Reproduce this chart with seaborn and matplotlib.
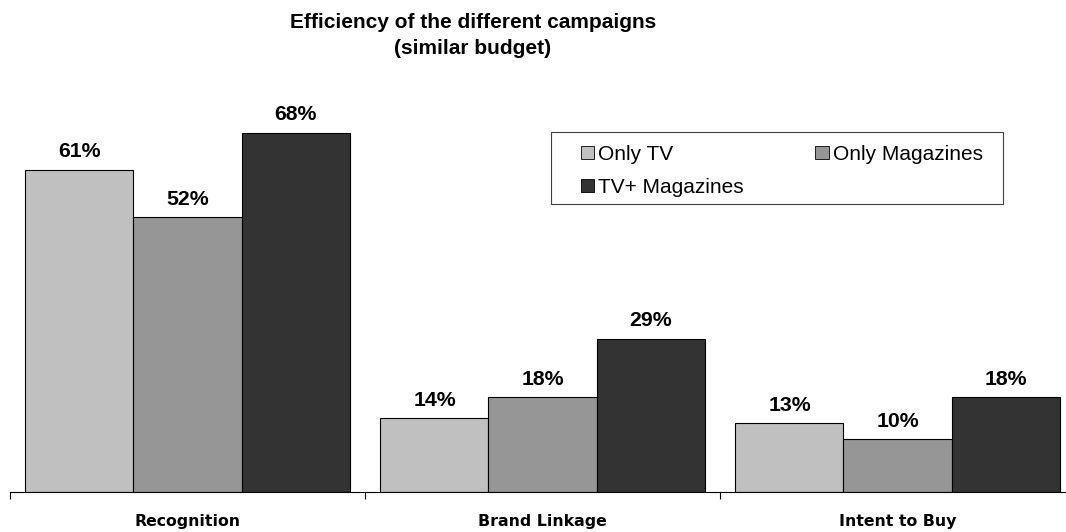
import matplotlib
matplotlib.use("Agg")
import matplotlib.pyplot as plt
from matplotlib.patches import Rectangle
import seaborn as sns
import pandas as pd

categories = ["Recognition", "Brand Linkage", "Intent to Buy"]
series_names = ["Only TV", "Only Magazines", "TV+ Magazines"]
only_tv = [61, 14, 13]
only_mag = [52, 18, 10]
tv_mag = [68, 29, 18]
colors = ["#C0C0C0", "#969696", "#333333"]

rows = []
for name, vals in zip(series_names, [only_tv, only_mag, tv_mag]):
    for c, v in zip(categories, vals):
        rows.append({"Category": c, "Series": name, "Value": v})
df = pd.DataFrame(rows)

sns.set_theme(style="white")
plt.rcParams['font.family'] = ['Liberation Sans', 'DejaVu Sans']
plt.rcParams['text.color'] = 'black'
plt.rcParams['xtick.color'] = 'black'

W, H = 1066, 532
AX_L, AX_B, AX_W, AX_H = 10, 40, 1065, 412
fig = plt.figure(figsize=(W/100, H/100), dpi=100)
ax = fig.add_axes([AX_L/W, AX_B/H, AX_W/W, AX_H/H])

def axx(px):
    return (px - AX_L) / AX_W

def axy(py):
    return (H - AX_B - py) / AX_H

sns.barplot(data=df, x="Category", y="Value", hue="Series", palette=colors,
            width=0.913, gap=0, edgecolor="black", linewidth=0.8, ax=ax,
            saturation=1, legend=True)

ax.set_ylim(0, 78)
ax.set_xlim(-0.5, 2.5)
for s in ["top", "right", "left"]:
    ax.spines[s].set_visible(False)
ax.spines["bottom"].set_color("black")
ax.spines["bottom"].set_linewidth(0.8)
ax.set_yticks([])
ax.set_xlabel("")
ax.set_ylabel("")

ax.set_xticks([-0.5, 0.5, 1.5, 2.5])
ax.set_xticklabels([])
ax.tick_params(axis="x", which="major", direction="out", length=5, width=0.8, color="black", bottom=True)
ax.set_xticks([0, 1, 2], minor=True)
ax.set_xticklabels(categories, minor=True, fontfamily="DejaVu Sans", fontweight="bold", fontsize=11.3, color="black")
ax.tick_params(axis="x", which="minor", length=0, pad=16)

for cont in ax.containers:
    ax.bar_label(cont, labels=[f"{int(v)}%" for v in cont.datavalues], padding=6,
                 fontsize=15.3, fontweight="bold", color="black")

handles, labels = ax.get_legend_handles_labels()
order = [0, 2, 1]
leg = ax.legend([handles[i] for i in order], [labels[i] for i in order],
                loc="upper left", bbox_to_anchor=(axx(581), axy(145)),
                ncol=2, frameon=False, fontsize=15,
                handlelength=0.63, handleheight=0.63, handletextpad=0.2,
                columnspacing=3.43, borderpad=0, labelspacing=0.67,
                borderaxespad=0)
for h in leg.legend_handles:
    h.set_edgecolor("black")
    h.set_linewidth(0.6)

frame = Rectangle((axx(551), axy(204)), axx(1003) - axx(551), axy(132) - axy(204),
                  transform=ax.transAxes, fill=False, edgecolor="#404040",
                  linewidth=0.8, zorder=5)
ax.add_patch(frame)

fig.text(473/W, 1 - 35.5/H, "Efficiency of the different campaigns\n(similar budget)",
         ha="center", va="center", fontsize=15, fontweight="bold", linespacing=1.42)

fig.savefig("out.png", dpi=100)
